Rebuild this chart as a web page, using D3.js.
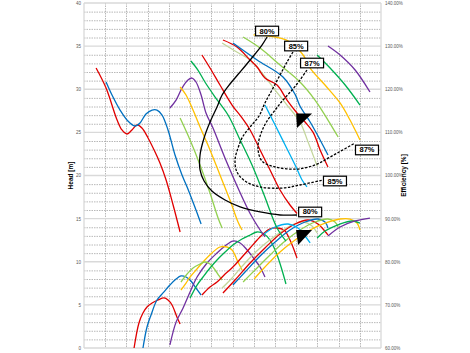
<!DOCTYPE html>
<html>
<head>
<meta charset="utf-8">
<script src="https://cdn.jsdelivr.net/npm/d3@7"></script>
<style>
  body { margin: 0; background: #fff; }
  svg { display: block; font-family: "Liberation Sans", Arial, sans-serif; }
</style>
</head>
<body>
<div id="chart"></div>
<script>
// ---------------- data (flow in grid units, head in m, efficiency in %)
const flowTicks = d3.range(0, 15)
const headTicks = d3.range(0, 41, 5)
const effTicks = d3.range(60, 141, 10)

const r1Head = [[0.57,32.46],[1.04,30.14],[1.56,26.43],[1.79,25.28],[2.03,24.81],[2.26,25.28],[2.5,25.86],[2.73,25.5],[3.02,24.35],[3.35,22.72],[3.58,21.45],[3.87,19.48],[4.2,16.58],[4.53,13.45]]
const r1Eff = [[2.36,60],[2.59,65.8],[2.78,68.1],[2.97,69.5],[3.21,70.43],[3.49,71.13],[3.77,71.6],[3.96,71.13],[4.15,69.97],[4.38,67.19],[4.53,65.57]]
const b1Head = [[1.04,30.84],[1.32,29.33],[1.7,27.59],[2.07,26.32],[2.4,25.74],[2.64,26.09],[2.92,27.13],[3.21,27.59],[3.44,27.59],[3.68,27.01],[3.96,25.28],[4.29,22.38],[4.62,20.06],[4.86,18.67],[5.19,16.58],[5.52,14.38]]
const b1Eff = [[2.78,60],[2.97,64.87],[3.16,67.65],[3.44,71.13],[3.77,73.0],[4.05,74.6],[4.34,76.0],[4.57,76.7],[4.81,76.46],[5.04,75.54],[5.28,73.9],[5.52,72.29]]
const p1Head = [[4.05,27.83],[4.34,28.75],[4.62,30.14],[4.9,31.07],[5.09,31.3],[5.28,30.84],[5.52,29.33],[5.75,27.25],[6.08,25.5],[6.65,22.0],[7.36,18.0],[7.83,15.6],[8.3,13.68],[8.53,12.9]]
const p1Eff = [[4.05,60.7],[4.34,66],[4.67,69.28],[5.0,73],[5.33,76.46],[5.8,79.71],[6.27,82.03],[6.65,83.65],[7.02,84.8],[7.36,84.35],[7.69,82.72],[8.06,80.41],[8.3,78.78],[8.53,76.46]]
const y1Head = [[4.53,30.26],[4.81,29.33],[5.14,27.59],[5.47,25.62],[5.94,22.96],[6.41,20.06],[6.88,17.16],[7.26,14.61],[7.45,13.68]]
const y1Eff = [[4.57,73.45],[4.81,75.07],[5.0,76.46],[5.28,78.09],[5.61,79.94],[6.03,82.03],[6.41,83.42],[6.74,83.42],[6.98,82.72],[7.26,79.94],[7.45,78.09]]
const lg1Head = [[4.53,26.67],[5.0,24.12],[5.47,21.22],[5.94,17.97],[6.32,15.07],[6.51,13.91]]
const lg1Eff = [[4.57,75.3],[4.86,77.16],[5.14,78.55],[5.47,79.48],[5.7,79.94],[5.94,79.48],[6.18,78.09],[6.37,76.7],[6.51,75.77]]
const g1Head = [[5.04,33.28],[5.37,32.23],[5.7,30.84],[6.18,29.1],[6.79,27.01],[7.36,24.12],[7.92,21.22],[8.49,17.74],[9.1,13.91],[9.52,12.4]]
const g1Eff = [[5.0,71.59],[5.33,74.6],[5.61,76.46],[5.94,78.55],[6.27,80.41],[6.65,82.26],[7.02,83.88],[7.45,85.27],[7.83,86.2],[8.16,86.9],[8.49,86.44],[8.77,85.04],[9.05,82.26],[9.29,78.78],[9.52,74.84]]
const r2Head = [[5.56,33.97],[5.94,32.46],[6.41,30.49],[6.98,28.17],[7.45,26.67],[7.83,25.28],[8.3,22.96],[8.77,20.64],[9.24,18.32],[9.71,16.58],[10.04,15.6]]
const r2Eff = [[5.56,72.29],[5.94,74.15],[6.27,75.3],[6.65,77.16],[7.02,78.78],[7.45,81.1],[7.83,83.19],[8.16,85.04],[8.44,86.44],[8.77,87.6],[9.1,87.83],[9.43,87.36],[9.71,85.04],[10.04,80.87]]
const pgHead = [[6.51,35.36],[7.12,34.43],[7.83,33.39],[8.39,31.88],[9.01,29.91],[9.57,28.17],[10.18,26.2],[10.56,23.9],[10.99,21.1]]
const pgEff = [[6.51,73.91],[6.98,76.23],[7.59,79.71],[8.3,83.19],[9.01,85.97],[9.71,88.29],[10.33,89.22],[10.75,88.29],[10.99,86.67]]
const r3Head = [[6.55,35.71],[7.21,34.9],[7.83,33.39],[8.16,32.58],[8.53,31.3],[9.1,30.49],[9.57,28.75],[10.04,27.25],[10.42,26.2],[10.8,25.0],[11.13,22.96],[11.5,20.99]]
const r3Eff = [[6.55,72.75],[7.12,75.77],[7.83,79.71],[8.53,83.19],[9.24,86.44],[9.95,88.75],[10.56,89.68],[11.03,88.75],[11.5,86.2]]
const b2Head = [[7.02,35.36],[8.16,33.39],[9.38,31.42],[9.95,29.4],[10.18,28.06],[10.66,26.2],[11.13,24.12],[11.5,22.38]]
const b2Eff = [[7.02,74.61],[7.59,77.62],[8.3,81.33],[9.01,84.58],[9.71,87.36],[10.42,89.22],[11.03,89.91],[11.36,89.22],[11.5,87.83]]
const lg2Head = [[7.5,36.06],[8.3,34.78],[9.24,32.81],[10.18,30.84],[10.89,28.75],[11.5,26.43],[11.98,24.46]]
const lg2Eff = [[7.5,75.3],[8.06,78.09],[8.77,81.57],[9.48,84.81],[10.18,87.36],[10.89,89.22],[11.5,89.91],[11.83,89.22],[11.98,88.06]]
const lbHead = [[8.53,28.17],[9.01,25.86],[9.48,23.54],[9.95,21.22],[10.28,19.48],[10.51,18.67]]
const lbEff = [[8.49,86.44],[9.01,88.06],[9.62,88.75],[10.09,87.83],[10.42,85.97],[10.66,84.35]]
const y2Head = [[7.99,36.3],[8.68,36.17],[9.24,35.94],[9.71,35.48],[10.33,33.97],[10.66,32.46],[11.36,30.49],[12.07,28.41],[12.54,26.43],[12.78,25.28],[13.01,24.12]]
const y2Eff = [[8.02,76.0],[8.53,78.78],[9.24,82.26],[9.95,85.04],[10.66,87.36],[11.36,88.98],[12.07,89.91],[12.54,89.91],[12.87,88.98],[13.01,87.36]]
const g2Head = [[10.99,33.97],[11.6,32.46],[12.31,30.49],[13.01,28.17]]
const g2Eff = [[10.99,85.5],[11.36,87.13],[12.07,88.75],[12.64,89.45],[13.01,88.98]]
const p2Head = [[11.5,35.01],[12.07,33.97],[12.78,32.23],[13.48,29.68]]
const p2Eff = [[11.5,85.97],[12.07,88.06],[12.78,89.45],[13.48,90.14]]

// iso efficiency lines (flow, head)
const iso80 = [[8.63,36.06],[8.39,35.13],[7.83,33.39],[7.36,32.0],[6.88,30.61],[6.51,29.33],[6.27,27.94],[5.94,26.2],[5.66,24.35],[5.47,22.38],[5.47,20.64],[5.66,19.36],[6.03,18.2],[6.65,17.16],[7.36,16.35],[8.3,15.77],[9.24,15.42],[10.04,15.42]]
const iso85 = [[9.85,34.32],[9.57,33.16],[9.24,31.65],[8.86,29.91],[8.53,28.41],[8.25,26.9],[7.83,25.62],[7.5,24.58],[7.26,23.19],[7.12,21.8],[7.21,20.41],[7.59,19.36],[8.3,18.67],[9.38,18.55],[10.18,18.9],[11.27,19.48]]
const iso87 = [[10.51,32.23],[10.18,31.07],[9.81,29.91],[9.38,28.75],[9.01,27.59],[8.63,26.32],[8.35,24.93],[8.2,23.19],[8.39,21.68],[9.01,20.99],[10.04,20.75],[10.89,21.22],[11.6,22.14],[12.78,23.77]]
const isoLabels = [["80%",8.63,36.75],["85%",10.0,35.01],["87%",10.75,33.04],["87%",13.34,22.96],["85%",11.83,19.36],["80%",10.66,15.77]]
const arrowHeads = [[[10.0,27.2],[10.75,27.2],[10.04,25.5]],[[10.0,13.68],[10.75,13.68],[10.09,11.94]]]

const pumps = [
  {color: "#e00000", head: r1Head, eff: r1Eff},
  {color: "#0070c0", head: b1Head, eff: b1Eff},
  {color: "#7030a0", head: p1Head, eff: p1Eff},
  {color: "#ffc000", head: y1Head, eff: y1Eff},
  {color: "#92d050", head: lg1Head, eff: lg1Eff},
  {color: "#00b050", head: g1Head, eff: g1Eff},
  {color: "#e00000", head: r2Head, eff: r2Eff},
  {color: "#c3d69b", head: pgHead, eff: pgEff},
  {color: "#e00000", head: r3Head, eff: r3Eff},
  {color: "#0070c0", head: b2Head, eff: b2Eff},
  {color: "#92d050", head: lg2Head, eff: lg2Eff},
  {color: "#00b0f0", head: lbHead, eff: lbEff},
  {color: "#ffc000", head: y2Head, eff: y2Eff},
  {color: "#00b050", head: g2Head, eff: g2Eff},
  {color: "#7030a0", head: p2Head, eff: p2Eff}
]

// ---------------- dimensions
const dims = {width: 470, height: 353, margin: {top: 3, right: 89, bottom: 5, left: 84}}
dims.boundedWidth = dims.width - dims.margin.left - dims.margin.right
dims.boundedHeight = dims.height - dims.margin.top - dims.margin.bottom

const svg = d3.select("#chart").append("svg")
  .attr("width", dims.width)
  .attr("height", dims.height)

const bounds = svg.append("g")
  .attr("transform", `translate(${dims.margin.left},${dims.margin.top})`)

// ---------------- scales
const xScale = d3.scaleLinear().domain([0, 14]).range([0, dims.boundedWidth])
const headScale = d3.scaleLinear().domain([0, 40]).range([dims.boundedHeight, 0])
const effScale = d3.scaleLinear().domain([60, 140]).range([dims.boundedHeight, 0])

// ---------------- grid
const grid = bounds.append("g")
grid.selectAll(".hminor").data(d3.range(0, 41).filter(d => d % 5 !== 0)).join("line")
  .attr("x1", 0).attr("x2", dims.boundedWidth)
  .attr("y1", d => headScale(d) + 0.5).attr("y2", d => headScale(d) + 0.5)
  .attr("stroke", "#a6a6a6").attr("stroke-width", 0.8).attr("stroke-dasharray", "1.5,1")
grid.selectAll(".vminor").data(flowTicks.slice(1, -1)).join("line")
  .attr("x1", d => Math.round(xScale(d)) + 0.5).attr("x2", d => Math.round(xScale(d)) + 0.5)
  .attr("y1", 0).attr("y2", dims.boundedHeight)
  .attr("stroke", "#a6a6a6").attr("stroke-width", 0.8).attr("stroke-dasharray", "1.5,1")
grid.selectAll(".hmajor").data(headTicks).join("line")
  .attr("x1", 0).attr("x2", dims.boundedWidth)
  .attr("y1", d => headScale(d)).attr("y2", d => headScale(d))
  .attr("stroke", "#d9d9d9").attr("stroke-width", 1.3)
grid.selectAll(".vedge").data([0, 14]).join("line")
  .attr("x1", d => xScale(d)).attr("x2", d => xScale(d))
  .attr("y1", 0).attr("y2", dims.boundedHeight)
  .attr("stroke", "#d9d9d9").attr("stroke-width", 1.3)

// ---------------- axes
const leftAxis = bounds.append("g")
  .call(d3.axisLeft(headScale).tickValues(headTicks).tickSize(0).tickPadding(3))
leftAxis.select(".domain").remove()
leftAxis.selectAll("text").attr("font-size", 4.5).attr("fill", "#595959")

const rightAxis = bounds.append("g")
  .attr("transform", `translate(${dims.boundedWidth},0)`)
  .call(d3.axisRight(effScale).tickValues(effTicks).tickSize(0).tickPadding(4)
    .tickFormat(d => d.toFixed(2) + "%"))
rightAxis.select(".domain").remove()
rightAxis.selectAll("text").attr("font-size", 4.5).attr("fill", "#595959")

svg.append("text")
  .attr("transform", `translate(71,${dims.margin.top + dims.boundedHeight / 2}) rotate(-90)`)
  .attr("text-anchor", "middle").attr("dominant-baseline", "middle")
  .attr("font-size", 6.5).attr("font-weight", "bold").text("Head [m]")
svg.append("text")
  .attr("transform", `translate(404,${dims.margin.top + dims.boundedHeight / 2}) rotate(-90)`)
  .attr("text-anchor", "middle").attr("dominant-baseline", "middle")
  .attr("font-size", 6.5).attr("font-weight", "bold").text("Efficiency [%]")

// ---------------- curves
const headLine = d3.line().x(d => xScale(d[0])).y(d => headScale(d[1])).curve(d3.curveCatmullRom)
const effLine = d3.line().x(d => xScale(d[0])).y(d => effScale(d[1])).curve(d3.curveCatmullRom)

const curves = bounds.append("g").attr("fill", "none").attr("stroke-width", 1.3)
curves.selectAll(".eff").data(pumps).join("path")
  .attr("d", d => effLine(d.eff)).attr("stroke", d => d.color)
curves.selectAll(".head").data(pumps).join("path")
  .attr("d", d => headLine(d.head)).attr("stroke", d => d.color)

// iso efficiency
const iso = bounds.append("g").attr("fill", "none").attr("stroke", "#000").attr("stroke-width", 1.3)
iso.append("path").attr("d", headLine(iso80))
iso.append("path").attr("d", headLine(iso85)).attr("stroke-dasharray", "2.5,1.5")
iso.append("path").attr("d", headLine(iso87)).attr("stroke-dasharray", "2.5,1.5")

bounds.selectAll(".arrow").data(arrowHeads).join("polygon")
  .attr("points", d => d.map(p => [xScale(p[0]), headScale(p[1])].join(",")).join(" "))
  .attr("fill", "#000")

const labels = bounds.selectAll(".isoLabel").data(isoLabels).join("g")
  .attr("transform", d => `translate(${xScale(d[1])},${headScale(d[2])})`)
labels.append("rect")
  .attr("x", -11.5).attr("y", -4.8).attr("width", 23).attr("height", 9.6)
  .attr("fill", "#fff").attr("stroke", "#000").attr("stroke-width", 1.2)
labels.append("text")
  .attr("text-anchor", "middle").attr("dominant-baseline", "central")
  .attr("font-size", 7.5).attr("font-weight", "bold").text(d => d[0])
</script>
</body>
</html>
